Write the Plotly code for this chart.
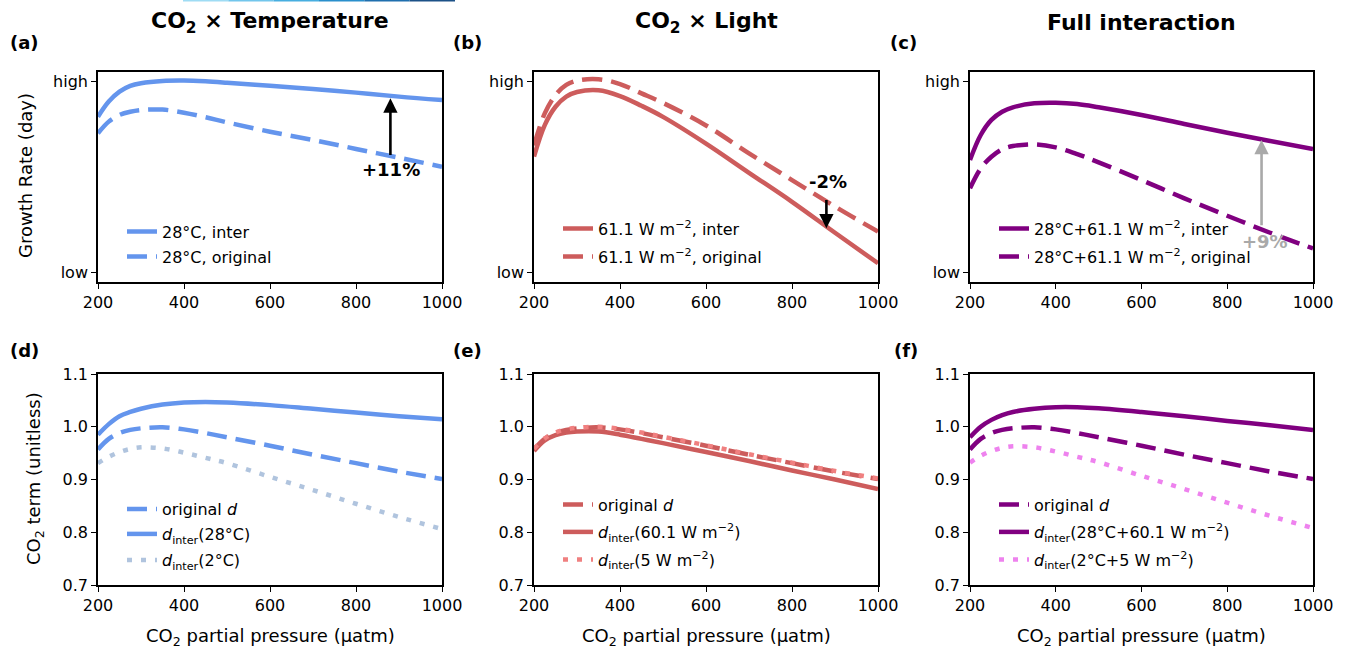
import plotly.graph_objects as go

# ---------------- data ----------------
co2 = [200, 225, 250, 275, 300, 350, 400, 450, 500, 600, 700, 800, 900, 1000]

# top row: growth rate (normalised: 0 = "low", 1 = "high")
a_inter = [0.816, 0.895, 0.947, 0.977, 0.991, 1.003, 1.005, 1.001, 0.994, 0.978, 0.961, 0.942, 0.921, 0.903]
a_orig = [0.729, 0.790, 0.825, 0.842, 0.851, 0.853, 0.837, 0.813, 0.786, 0.737, 0.694, 0.647, 0.601, 0.554]
b_inter = [0.607, 0.772, 0.868, 0.921, 0.945, 0.954, 0.924, 0.873, 0.815, 0.675, 0.522, 0.370, 0.208, 0.048]
b_orig = [0.665, 0.833, 0.929, 0.982, 1.005, 1.012, 0.987, 0.938, 0.888, 0.770, 0.624, 0.484, 0.345, 0.214]
c_inter = [0.589, 0.720, 0.799, 0.842, 0.865, 0.886, 0.889, 0.882, 0.865, 0.825, 0.778, 0.732, 0.689, 0.647]
c_orig = [0.441, 0.545, 0.606, 0.645, 0.662, 0.671, 0.655, 0.620, 0.577, 0.484, 0.388, 0.297, 0.208, 0.126]

# bottom row: CO2 term (unitless)
d_orig = [0.957, 0.977, 0.988, 0.994, 0.997, 0.999, 0.995, 0.988, 0.980, 0.964, 0.947, 0.931, 0.915, 0.901]
d_inter_28C = [0.985, 1.005, 1.020, 1.028, 1.034, 1.042, 1.046, 1.047, 1.046, 1.041, 1.034, 1.027, 1.020, 1.014]
d_inter_2C = [0.931, 0.943, 0.952, 0.958, 0.961, 0.959, 0.951, 0.941, 0.931, 0.905, 0.880, 0.854, 0.829, 0.806]
d_inter_60W = [0.954, 0.974, 0.984, 0.989, 0.991, 0.991, 0.985, 0.977, 0.969, 0.952, 0.935, 0.917, 0.900, 0.882]
d_inter_5W = [0.958, 0.978, 0.989, 0.995, 0.998, 1.000, 0.996, 0.989, 0.981, 0.965, 0.948, 0.932, 0.916, 0.902]
d_inter_full = [0.980, 1.000, 1.013, 1.022, 1.028, 1.034, 1.037, 1.037, 1.035, 1.028, 1.020, 1.011, 1.003, 0.994]
d_inter_low = [0.932, 0.945, 0.954, 0.960, 0.963, 0.961, 0.953, 0.943, 0.933, 0.907, 0.882, 0.856, 0.831, 0.808]

x_ticks = [200, 400, 600, 800, 1000]
top_tickvals = [0, 1]
top_ticktext = ["low", "high"]
bottom_ticks = [0.7, 0.8, 0.9, 1.0, 1.1]

col_t, col_t_light = "#6495ED", "#B0C4DE"
col_l, col_l_light = "#CD5C5C", "#F08080"
col_f, col_f_light = "#800080", "#EE82EE"

FONT = "DejaVu Sans"
W, H = 1349, 650


def px_x(p):
    return p / W


def px_y(p):
    return 1 - p / H


fig = go.Figure()

DASH = "20px,9px"
DOT = "5px,9px"
LW = 4.5

legend_layouts = {}
_leg_count = [0]


def add(x, y, col, dash, name, xa, ya, text_x, entry_y):
    """Add a line trace; each legend entry gets its own legend box placed in pixels."""
    _leg_count[0] += 1
    key = "legend" if _leg_count[0] == 1 else "legend%d" % _leg_count[0]
    legend_layouts[key] = dict(
        x=px_x(text_x - 40), y=px_y(entry_y), xanchor="left", yanchor="middle",
        xref="paper", yref="paper", bgcolor="rgba(0,0,0,0)", borderwidth=0,
        font=dict(family=FONT, size=16, color="black"), tracegroupgap=0,
    )
    fig.add_trace(go.Scatter(
        x=x, y=y, mode="lines", name=name,
        line=dict(color=col, width=LW, dash=dash, shape="spline", smoothing=1.0),
        xaxis=xa, yaxis=ya, legend=key, showlegend=True,
    ))


add(co2, a_inter, col_t, "solid", "28°C, inter", "x", "y", 162, 231.5)
add(co2, a_orig, col_t, DASH, "28°C, original", "x", "y", 162, 256.5)
add(co2, b_inter, col_l, "solid", "61.1 W m<sup>−2</sup>, inter", "x2", "y2", 598, 228.5)
add(co2, b_orig, col_l, DASH, "61.1 W m<sup>−2</sup>, original", "x2", "y2", 598, 256.5)
add(co2, c_inter, col_f, "solid", "28°C+61.1 W m<sup>−2</sup>, inter", "x3", "y3", 1034, 228.5)
add(co2, c_orig, col_f, DASH, "28°C+61.1 W m<sup>−2</sup>, original", "x3", "y3", 1034, 256.5)

add(co2, d_inter_28C, col_t, "solid", "<i>d</i><sub>inter</sub>(28°C)", "x4", "y4", 162, 534)
add(co2, d_orig, col_t, DASH, "original <i>d</i>", "x4", "y4", 162, 509)
add(co2, d_inter_2C, col_t_light, DOT, "<i>d</i><sub>inter</sub>(2°C)", "x4", "y4", 162, 560)

add(co2, d_inter_60W, col_l, "solid", "<i>d</i><sub>inter</sub>(60.1 W m<sup>−2</sup>)", "x5", "y5", 598, 532)
add(co2, d_orig, col_l, DASH, "original <i>d</i>", "x5", "y5", 598, 504.5)
add(co2, d_inter_5W, col_l_light, DOT, "<i>d</i><sub>inter</sub>(5 W m<sup>−2</sup>)", "x5", "y5", 598, 559.5)

add(co2, d_inter_full, col_f, "solid", "<i>d</i><sub>inter</sub>(28°C+60.1 W m<sup>−2</sup>)", "x6", "y6", 1034, 532)
add(co2, d_orig, col_f, DASH, "original <i>d</i>", "x6", "y6", 1034, 504.5)
add(co2, d_inter_low, col_f_light, DOT, "<i>d</i><sub>inter</sub>(2°C+5 W m<sup>−2</sup>)", "x6", "y6", 1034, 559.5)

# ---------------- layout ----------------
cols_px = [(98, 442), (534, 878), (970, 1313)]
rows_px = [(72, 282), (374, 585)]

axis_common = dict(
    showline=True, mirror=True, linecolor="black", linewidth=1.6,
    ticks="outside", ticklen=5, tickwidth=1.4, tickcolor="black",
    showgrid=False, zeroline=False, automargin=False,
    tickfont=dict(family=FONT, size=16, color="black"),
)

layout = dict(
    width=W, height=H, autosize=False,
    margin=dict(l=0, r=0, t=0, b=0, pad=0, autoexpand=False),
    paper_bgcolor="white", plot_bgcolor="white",
    font=dict(family=FONT, size=16, color="black"),
)

for r in range(2):
    for c in range(3):
        i = r * 3 + c + 1
        xs = "" if i == 1 else str(i)
        xd = [px_x(cols_px[c][0]), px_x(cols_px[c][1])]
        yd = [px_y(rows_px[r][1]), px_y(rows_px[r][0])]
        xa = dict(axis_common, domain=xd, range=[200, 1000], tickvals=x_ticks,
                  anchor="y" + xs)
        if r == 0:
            ya = dict(axis_common, domain=yd, range=[-0.05, 1.05],
                      tickvals=top_tickvals, ticktext=top_ticktext, anchor="x" + xs)
        else:
            ya = dict(axis_common, domain=yd, range=[0.7, 1.1],
                      tickvals=bottom_ticks, tickformat=".1f", anchor="x" + xs)
        layout["xaxis" + xs] = xa
        layout["yaxis" + xs] = ya

layout.update(legend_layouts)
fig.update_layout(**layout)

annotations = []
# column titles
titles = ["<b>CO<sub>2</sub> × Temperature</b>", "<b>CO<sub>2</sub> × Light</b>", "<b>Full interaction</b>"]
for c, t in enumerate(titles):
    cx = (cols_px[c][0] + cols_px[c][1]) / 2
    annotations.append(dict(text=t, x=px_x(cx), y=px_y(23), xref="paper", yref="paper",
                            xanchor="center", yanchor="middle", showarrow=False,
                            font=dict(family=FONT, size=22, color="black")))
# panel labels
labels = [("(a)", 24, 42), ("(b)", 468, 42), ("(c)", 903, 42),
          ("(d)", 24, 350), ("(e)", 468, 350), ("(f)", 906, 350)]
for t, lx, ly in labels:
    annotations.append(dict(text="<b>" + t + "</b>", x=px_x(lx), y=px_y(ly), xref="paper", yref="paper",
                            xanchor="center", yanchor="middle", showarrow=False,
                            font=dict(family=FONT, size=18, color="black")))
# axis titles
annotations.append(dict(text="Growth Rate (day)", x=px_x(25), y=px_y(176), xref="paper", yref="paper",
                        xanchor="center", yanchor="middle", showarrow=False, textangle=-90,
                        font=dict(family=FONT, size=18, color="black")))
annotations.append(dict(text="CO<sub>2</sub> term (unitless)", x=px_x(35), y=px_y(479), xref="paper", yref="paper",
                        xanchor="center", yanchor="middle", showarrow=False, textangle=-90,
                        font=dict(family=FONT, size=18, color="black")))
for c in range(3):
    cx = (cols_px[c][0] + cols_px[c][1]) / 2
    annotations.append(dict(text="CO<sub>2</sub> partial pressure (µatm)", x=px_x(cx), y=px_y(637),
                            xref="paper", yref="paper", xanchor="center", yanchor="middle",
                            showarrow=False, font=dict(family=FONT, size=18, color="black")))

# arrows and percentage labels
arrows = [
    ("x", "y", 880, 0.607, 0.912, "black"),
    ("x2", "y2", 880, 0.388, 0.231, "black"),
    ("x3", "y3", 880, 0.240, 0.694, "#A9A9A9"),
]
for xa, ya, ax_, y0, y1, colr in arrows:
    annotations.append(dict(x=ax_, y=y1, ax=ax_, ay=y0, xref=xa, yref=ya, axref=xa, ayref=ya,
                            text="", showarrow=True, arrowhead=2, arrowsize=1.1, arrowwidth=2.6,
                            arrowcolor=colr, standoff=0, startstandoff=0))
pct = [("x", "y", 881, 0.537, "+11%", "black"),
       ("x2", "y2", 884, 0.475, "-2%", "black"),
       ("x3", "y3", 889, 0.161, "+9%", "#A9A9A9")]
for xa, ya, px_, py_, t, colr in pct:
    annotations.append(dict(x=px_, y=py_, xref=xa, yref=ya, text="<b>" + t + "</b>", showarrow=False,
                            xanchor="center", yanchor="middle",
                            font=dict(family=FONT, size=18, color=colr)))

fig.update_layout(annotations=annotations)

# thin gradient strip at the very top edge (part of the source image)
strip_cols = ["#9fdcf4", "#72c6ec", "#47aee0", "#2a8fcc", "#1f6fae", "#1c5187"]
x0, x1 = 183, 455
n = len(strip_cols)
shapes = []
for k, sc in enumerate(strip_cols):
    shapes.append(dict(type="line", xref="paper", yref="paper",
                       x0=px_x(x0 + (x1 - x0) * k / n), x1=px_x(x0 + (x1 - x0) * (k + 1) / n),
                       y0=px_y(0.8), y1=px_y(0.8), line=dict(color=sc, width=1.6)))
fig.update_layout(shapes=shapes)

fig.write_html("out.html", config={"displayModeBar": False},
               post_script="document.body.style.margin='0';document.body.style.overflow='hidden';")
